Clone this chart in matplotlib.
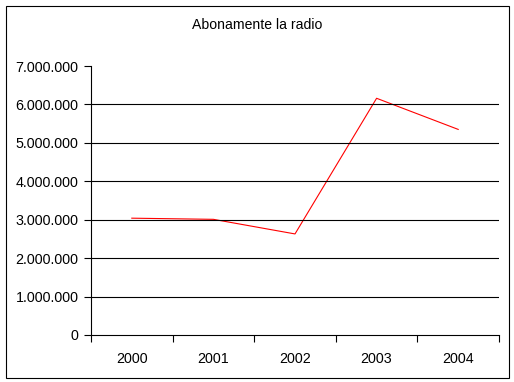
import numpy as np
import matplotlib.pyplot as plt
from matplotlib.patches import Rectangle
from matplotlib.ticker import FuncFormatter, FixedLocator

plt.rcParams['font.family'] = ['Liberation Sans', 'DejaVu Sans']

years = ['2000', '2001', '2002', '2003', '2004']
abonamente = [3040000, 3010000, 2630000, 6160000, 5350000]

fig = plt.figure(figsize=(5.14, 3.82), dpi=100)
fig.patches.append(Rectangle((5.5/514, 1-377.5/382), 503/514, 372/382,
                             transform=fig.transFigure, fill=False,
                             edgecolor='black', linewidth=0.8))

ax = fig.add_axes([91/514, 1-335/382, 408/514, 269/382])
x = np.arange(len(years))
ax.plot(x, abonamente, color='#ff0000', linewidth=0.8)

ax.set_xlim(-0.5, len(years) - 0.5)
ax.set_ylim(0, 7000000)
ax.set_yticks(np.arange(0, 7000001, 1000000))
ax.yaxis.set_major_formatter(FuncFormatter(lambda v, p: f"{int(v):,}".replace(',', '.')))
for v in range(1000000, 7000000, 1000000):
    ax.axhline(v, color='black', linewidth=0.8)

ax.set_xticks(x)
ax.set_xticklabels(years)
ax.tick_params(axis='x', which='major', length=0, pad=12, labelsize=10.3)
ax.xaxis.set_minor_locator(FixedLocator(np.arange(-0.5, len(years), 1.0)))
ax.tick_params(axis='x', which='minor', length=5, width=0.8, direction='out')
ax.tick_params(axis='y', length=5, width=0.8, pad=4, labelsize=10.3)

for s in ['top', 'right']:
    ax.spines[s].set_visible(False)
for s in ['left', 'bottom']:
    ax.spines[s].set_linewidth(0.8)

fig.text(257/514, 1-25/382, 'Abonamente la radio', ha='center', va='center', fontsize=10.1)

fig.savefig('out.png', dpi=100)
